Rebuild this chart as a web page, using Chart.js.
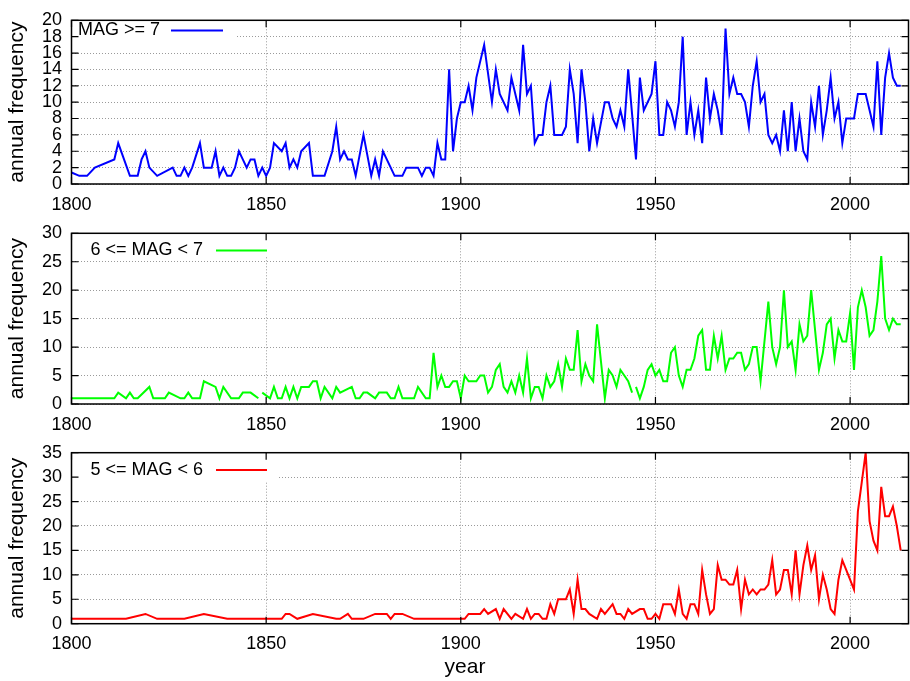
<!DOCTYPE html>
<html>
<head>
<meta charset="utf-8">
<script src="https://cdn.jsdelivr.net/npm/chart.js@4.4.1/dist/chart.umd.min.js"></script>
<style>
  body { margin: 0; background: #fff; }
  #wrap { position: relative; width: 910px; height: 681px; }
  #wrap canvas { position: absolute; left: 0; top: 0; }
</style>
</head>
<body>
<div id="wrap">
  <canvas id="c1" width="910" height="681"></canvas>
  <canvas id="c2" width="910" height="681"></canvas>
  <canvas id="c3" width="910" height="681"></canvas>
</div>
<script>
// x axis
const xTicks = [1800, 1850, 1900, 1950, 2000];

// MAG >= 7
const years7 = [
  1800,1802,1804,1806,1811,1812,1815,1817,1818,1819,
  1820,1822,1826,1827,1828,1829,1830,1831,1833,1834,
  1836,1837,1838,1839,1840,1841,1842,1843,1844,1845,
  1846,1847,1848,1849,1850,1851,1852,1854,1855,1856,
  1857,1858,1859,1861,1862,1865,1867,1868,1869,1870,
  1871,1872,1873,1875,1877,1878,1879,1880,1883,1885,
  1886,1889,1890,1891,1892,1893,1894,1895,1896,1897,
  1898,1899,1900,1901,1902,1903,1904,1906,1908,1909,
  1910,1912,1913,1915,1916,1917,1918,1919,1920,1921,
  1922,1923,1924,1926,1927,1928,1929,1930,1931,1932,
  1933,1934,1935,1937,1938,1939,1940,1941,1942,1943,
  1945,1946,1947,1949,1950,1951,1952,1953,1954,1955,
  1956,1957,1958,1959,1960,1961,1962,1963,1964,1965,
  1966,1967,1968,1969,1970,1971,1972,1973,1974,1975,
  1976,1977,1978,1979,1980,1981,1982,1983,1984,1985,
  1986,1987,1988,1989,1990,1991,1992,1993,1994,1995,
  1996,1997,1998,1999,2000,2001,2002,2003,2004,2005,
  2006,2007,2008,2009,2010,2011,2012,2013
];
const freq7 = [
  1.4,1,1,2,3,5,1,1,3,4,
  2,1,2,1,1,2,1,2,5,2,
  2,4,1,2,1,1,2,4,3,2,
  3,3,1,2,1,2,5,4,5,2,
  3,2,4,5,1,1,4,7,3,4,
  3,3,1,6,1,3,1,4,1,1,
  2,2,1,2,2,1,5,3,3,14,
  4,8,10,10,12,9,13,17,10,14,
  11,9,13,9,17,11,12,5,6,6,
  10,12,6,6,7,14,11,5,14,10,
  4,8,5,10,10,8,7,9,7,14,
  3,13,9,11,15,6,6,10,9,7,
  10,18,6,10,6,9,5,13,8,11,
  9,6,19,11,13,11,11,10,7,12,
  15,10,11,6,5,6,4,9,4,10,
  4,8,4,3,10,7,12,6,9,13,
  8,10,5,8,8,8,11,11,11,9,
  7,15,6,13,16,13,12,12
];

// 6 <= MAG < 7  (null = break in the line)
const years6 = [
  1800,1811,1812,1814,1815,1816,1817,1820,1821,1824,
  1825,1828,1829,1830,1831,1833,1834,1837,1838,1839,
  1841,1843,1844,1846,1848,1848.5,1849,1851,1852,1853,
  1854,1855,1856,1857,1858,1859,1861,1862,1863,1864,
  1865,1867,1868,1869,1872,1873,1874,1875,1876,1878,
  1879,1881,1882,1883,1884,1885,1888,1889,1891,1892,
  1893,1894,1895,1896,1897,1898,1899,1900,1901,1902,
  1904,1905,1906,1907,1908,1909,1910,1911,1912,1913,
  1914,1915,1916,1917,1918,1919,1920,1921,1922,1923,
  1924,1925,1926,1927,1928,1929,1930,1931,1932,1933,
  1934,1935,1937,1938,1939,1940,1941,1942,1943,1944,
  1944.5,1945,1946,1947,1948,1949,1950,1951,1952,1953,
  1954,1955,1956,1957,1958,1959,1960,1961,1962,1963,
  1964,1965,1966,1967,1968,1969,1970,1971,1972,1973,
  1974,1975,1976,1977,1979,1980,1981,1982,1983,1984,
  1985,1986,1987,1988,1989,1990,1991,1992,1993,1994,
  1995,1996,1997,1998,1999,2000,2001,2002,2003,2004,
  2005,2006,2007,2008,2009,2010,2011,2012,2013
];
const freq6 = [
  1,1,2,1,2,1,1,3,1,1,
  2,1,1,2,1,1,4,3,1,3,
  1,1,2,2,1,null,2,1,3,1,
  1,3,1,3,1,3,3,4,4,1,
  3,1,3,2,3,1,1,2,2,1,
  2,2,1,1,3,1,1,3,1,1,
  9,3,5,3,3,4,4,1,5,4,
  4,5,5,2,3,6,7,3,2,4,
  2,5,2,8,1,3,3,1,5,3,
  4,7,3,8,6,6,13,4,7,5,
  4,14,1,6,5,3,6,5,4,2,
  null,3,1,3,6,7,5,6,4,4,
  9,10,5,3,6,6,8,12,13,6,
  6,12,8,12,6,8,8,9,9,6,
  7,10,10,4,18,10,7,10,20,10,
  11,6,14,11,12,20,13,6,9,14,
  15,8,13,11,11,16,6,17,20,17,
  12,13,18,26,15,13,15,14,14
];

// 5 <= MAG < 6
const years5 = [
  1800,1814,1819,1822,1829,1834,1840,1854,1855,1856,
  1858,1862,1868,1869,1871,1872,1875,1878,1881,1882,
  1883,1885,1888,1901,1902,1905,1906,1907,1909,1910,
  1911,1913,1914,1916,1917,1918,1919,1920,1921,1922,
  1923,1924,1925,1927,1928,1929,1930,1931,1932,1933,
  1935,1936,1937,1939,1940,1941,1942,1943,1944,1946,
  1947,1948,1949,1950,1951,1952,1954,1955,1956,1957,
  1958,1959,1960,1961,1962,1963,1964,1965,1966,1967,
  1968,1969,1970,1971,1972,1973,1974,1975,1976,1977,
  1978,1979,1980,1981,1982,1983,1984,1985,1986,1987,
  1988,1989,1990,1991,1992,1993,1994,1995,1996,1997,
  1998,1999,2000,2001,2002,2003,2004,2005,2006,2007,
  2008,2009,2010,2011,2012,2013
];
const freq5 = [
  1,1,2,1,1,2,1,1,2,2,
  1,2,1,1,2,1,1,2,2,1,
  2,2,1,1,2,2,3,2,3,1,
  3,1,2,1,3,1,2,2,1,1,
  4,2,5,5,7,2,9,3,3,2,
  1,3,2,4,2,2,1,3,2,3,
  3,1,1,2,1,4,4,2,7,2,
  1,4,4,2,11,6,2,3,12,9,
  9,8,8,11,3,9,6,7,6,7,
  7,8,13,6,7,11,11,6,15,6,
  12,16,11,14,5,10,7,3,2,9,
  13,11,9,7,23,29,35,21,17,15,
  28,22,22,24,20,15
];

const yTicks7 = [0, 2, 4, 6, 8, 10, 12, 14, 16, 18, 20];
const yTicks6 = [0, 5, 10, 15, 20, 25, 30];
const yTicks5 = [0, 5, 10, 15, 20, 25, 30, 35];

const FONT = '"Liberation Sans", Arial, Helvetica, sans-serif';
Chart.defaults.font.family = FONT;
Chart.defaults.font.size = 18;
Chart.defaults.color = '#000';

// gnuplot-like frame, inward ticks and key
const gnuFrame = {
  id: 'gnuFrame',
  afterDatasetsDraw(chart, args, opts) {
    const { ctx, chartArea: a, scales: { x, y } } = chart;
    const k = opts.key;
    ctx.save();
    ctx.fillStyle = '#fff';
    ctx.fillRect(k.box[0], k.box[1], k.box[2], k.box[3]);
    ctx.font = '18px ' + FONT;
    ctx.fillStyle = '#000';
    ctx.textAlign = 'right';
    ctx.textBaseline = 'middle';
    ctx.fillText(k.text, k.textRight, k.y);
    ctx.strokeStyle = k.color;
    ctx.lineWidth = 2;
    ctx.beginPath();
    ctx.moveTo(k.x0, k.y);
    ctx.lineTo(k.x1, k.y);
    ctx.stroke();

    ctx.strokeStyle = '#000';
    ctx.lineWidth = 1.2;
    ctx.beginPath();
    y.ticks.forEach(t => {
      const py = y.getPixelForValue(t.value);
      ctx.moveTo(a.left, py); ctx.lineTo(a.left + 7, py);
      ctx.moveTo(a.right, py); ctx.lineTo(a.right - 7, py);
    });
    x.ticks.forEach(t => {
      const px = x.getPixelForValue(t.value);
      ctx.moveTo(px, a.bottom); ctx.lineTo(px, a.bottom - 7);
      ctx.moveTo(px, a.top); ctx.lineTo(px, a.top + 7);
    });
    ctx.stroke();
    ctx.lineWidth = 1.5;
    ctx.strokeRect(a.left, a.top, a.width, a.height);

    if (opts.xTitle) {
      ctx.font = '21px ' + FONT;
      ctx.fillStyle = '#000';
      ctx.textAlign = 'center';
      ctx.textBaseline = 'middle';
      ctx.fillText(opts.xTitle, 465, 667);
    }
    ctx.restore();
  }
};

function makePanel(id, years, values, color, yMax, yTicks, pad, key, xTitle) {
  new Chart(document.getElementById(id), {
    type: 'line',
    data: {
      datasets: [{
        data: years.map((yr, i) => ({ x: yr, y: values[i] })),
        borderColor: color,
        borderWidth: 2,
        pointRadius: 0,
        tension: 0,
        fill: false
      }]
    },
    options: {
      responsive: false,
      animation: false,
      layout: { padding: pad },
      plugins: {
        legend: { display: false },
        tooltip: { enabled: false },
        gnuFrame: { key: key, xTitle: xTitle }
      },
      scales: {
        x: {
          type: 'linear',
          min: 1800,
          max: 2015,
          afterBuildTicks: s => { s.ticks = xTicks.map(v => ({ value: v })); },
          afterFit: s => { s.height = 40; },
          ticks: {
            padding: 10, maxRotation: 0, autoSkip: false, font: { size: 18 },
            callback: v => String(v)
          },
          grid: { color: '#9a9a9a', lineWidth: 1, drawTicks: false },
          border: { display: false, dash: [1, 2] }
        },
        y: {
          min: 0,
          max: yMax,
          afterBuildTicks: s => { s.ticks = yTicks.map(v => ({ value: v })); },
          afterFit: s => { s.width = 71.5; },
          ticks: { padding: 9.5, autoSkip: false, font: { size: 18 }, callback: v => String(v) },
          grid: { color: '#9a9a9a', lineWidth: 1, drawTicks: false },
          border: { display: false, dash: [1, 2] },
          title: {
            display: true,
            text: 'annual frequency',
            font: { size: 21 },
            padding: { top: 5, bottom: 0 }
          }
        }
      }
    },
    plugins: [gnuFrame]
  });
}

makePanel('c1', years7, freq7, '#0000ff', 20, yTicks7,
  { top: 13, right: 1.5, bottom: 457, left: 0 },
  { box: [72, 20, 163, 21], text: 'MAG >= 7', textRight: 160, y: 30.5, x0: 171, x1: 223, color: '#0000ff' });

makePanel('c2', years6, freq6, '#00ff00', 30, yTicks6,
  { top: 233.3, right: 1.5, bottom: 237, left: 0 },
  { box: [72, 234, 204, 23], text: '6 <= MAG < 7', textRight: 203, y: 250.5, x0: 216, x1: 267, color: '#00ff00' });

makePanel('c3', years5, freq5, '#ff0000', 35, yTicks5,
  { top: 452.7, right: 1.5, bottom: 17.3, left: 0 },
  { box: [72, 454, 206, 27], text: '5 <= MAG < 6', textRight: 203, y: 470, x0: 216, x1: 267, color: '#ff0000' },
  'year');
</script>
</body>
</html>
